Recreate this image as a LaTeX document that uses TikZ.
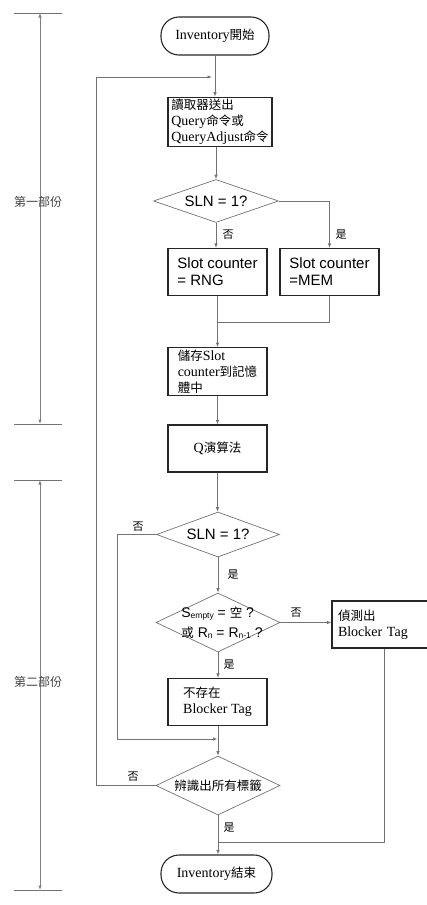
\documentclass[tikz,border=0pt]{standalone}
\usepackage{fontspec}
\setmainfont{Liberation Serif}
\newfontfamily\cjk{Noto Sans CJK TC}
\newfontfamily\sansf{Liberation Sans}
\usetikzlibrary{shapes.geometric,arrows.meta}
\newcommand\zh[1]{{\cjk\fontsize{12.5}{16}\selectfont #1}}
\newcommand\subx[1]{\raisebox{-1.3pt}{\fontsize{8.5}{9}\selectfont #1}}
\tikzset{
  conn/.style={draw=black!55, line width=0.8pt},
  arr/.style={conn, -{Latex[length=4.5pt,width=3.5pt]}},
  dimarr/.style={draw=black!50, line width=1pt, {Latex[length=4.5pt,width=3.5pt]}-{Latex[length=4.5pt,width=3.5pt]}},
  tick/.style={draw=black!55, line width=0.7pt},
  boxn/.style={draw=black!85, line width=1.1pt, minimum width=99pt, minimum height=47pt,
    inner sep=2pt, align=left, font=\fontsize{14}{16}\selectfont},
  sboxn/.style={boxn, font=\sansf\fontsize{15}{17}\selectfont},
  term/.style={draw=black!85, line width=1.1pt, rounded corners=18pt, minimum height=38pt,
    inner sep=2pt, font=\fontsize{14}{16}\selectfont},
  dia/.style={diamond, draw=black!55, line width=0.7pt, inner sep=0pt},
  diat/.style={inner sep=0pt, font=\sansf\fontsize{15}{17}\selectfont},
  lab/.style={inner sep=0pt, font=\cjk\fontsize{11}{11}\selectfont},
  part/.style={inner sep=0pt, text=black!75, font=\cjk\fontsize{12}{12}\selectfont},
}
\begin{document}
\begin{tikzpicture}[x=1pt,y=-1pt]
\useasboundingbox (0,0) rectangle (427,905);
\clip (0,0) rectangle (427,905);

% left dimension marks
\draw[tick] (14,13) -- (62,13);
\draw[tick] (14,424) -- (62,424);
\draw[tick] (14,480) -- (62,480);
\draw[tick] (14,890) -- (62,890);
\draw[dimarr] (40,13) -- (40,424);
\draw[dimarr] (40,480) -- (40,890);
\node[part] (p1) at (38,202) {第一部份};
\node[part] (p2) at (38,682) {第二部份};

% nodes
\node[term, minimum width=108pt] (start) at (215,36) {Inventory\zh{開始}};
\node[boxn, minimum width=104pt, minimum height=48pt] (read) at (220,122)
  {\zh{讀取器送出}\\Query\zh{命令或}\\QueryAdjust\zh{命令}};
\node[dia, minimum width=125pt, minimum height=43pt] (d1) at (216,201) {};
\node[diat] (t1) at (d1) {SLN = 1?};
\node[sboxn] (rng) at (217.5,272) {Slot counter\\= RNG};
\node[sboxn] (mem) at (329.5,272) {Slot counter\\=MEM};
\node[boxn] (store) at (217.5,371.5) {\zh{儲存}Slot\\counter\zh{到記憶}\\\zh{體中}};
\node[boxn, align=center] (q) at (217.5,448.5) {Q\zh{演算法}};
\node[dia, minimum width=123pt, minimum height=45pt] (d2) at (218,534.5) {};
\node[diat] (t2) at (d2) {SLN = 1?};
\node[dia, minimum width=124pt, minimum height=59pt] (d3) at (218,622.5) {};
\node[diat, align=left, font=\sansf\fontsize{14}{20}\selectfont] (t3) at (222,623)
  {S\subx{empty} = \zh{空} ?\\\zh{或} R\subx{n} = R\subx{n-1} ?};
\node[boxn, minimum width=104pt, text width=92pt, inner xsep=6pt] (det) at (384,624.5)
  {\zh{偵測出}\\Blocker Tag};
\node[boxn] (nob) at (217.5,702) {\zh{不存在}\\Blocker Tag};
\node[dia, minimum width=124pt, minimum height=59pt] (d4) at (218,785.5) {};
\node[inner sep=0pt] (t4) at (d4) {\zh{辨識出所有標籤}};
\node[term, minimum width=111pt] (end) at (216.5,874) {Inventory\zh{結束}};

% helper coordinates
\coordinate (lpL) at (96,785.5);
\coordinate (lpT) at (96,77);
\coordinate (j1) at (start.south |- lpT);
\coordinate (m1) at (217.5,322);
\coordinate (l2) at (117,739);
\coordinate (j2) at (217.5,739);
\coordinate (j3) at (218,842);

% connectors
\draw[arr] (start.south) -- (start.south |- read.north);
\draw[arr, shorten >=3pt] (d4.west) -- (lpL) -- (lpT) -- (j1);
\draw[arr] (read.south -| d1.north) -- (d1.north);
\draw[arr] (d1.south) -- (d1.south |- rng.north);
\draw[arr] (d1.east) -| (mem.north);
\draw[conn] (rng.south) -- (m1);
\draw[conn] (mem.south) |- (m1);
\draw[arr] (m1) -- (m1 |- store.north);
\draw[arr] (store.south) -- (q.north);
\draw[arr] (q.south) -- (q.south |- d2.north);
\draw[arr] (d2.west) -| (l2) -- (j2);
\draw[arr] (d2.south) -- (d3.north);
\draw[arr] (d3.east) -- (d3.east -| det.west);
\draw[arr] (d3.south) -- (d3.south |- nob.north);
\draw[arr] (nob.south -| d4.north) -- (d4.north);
\draw[conn] (det.south) |- (j3);
\draw[arr] (d4.south) -- (d4.south |- end.north);

% branch labels
\node[lab] (a1) at (228,235) {否};
\node[lab] (a2) at (341,235) {是};
\node[lab] (a3) at (138,527) {否};
\node[lab] (a4) at (233,575) {是};
\node[lab] (a5) at (296,613) {否};
\node[lab] (a6) at (229,665) {是};
\node[lab] (a7) at (133,777) {否};
\node[lab] (a8) at (229,828) {是};
\end{tikzpicture}
\end{document}
